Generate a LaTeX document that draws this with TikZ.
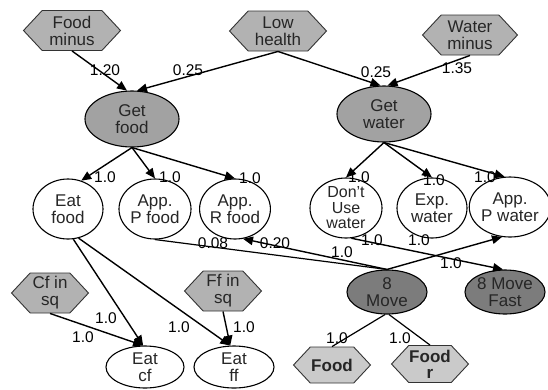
\documentclass[tikz,border=0pt]{standalone}
\usepackage{fontspec}
\setmainfont{Liberation Sans}
\usetikzlibrary{shapes.geometric,shapes.symbols,arrows.meta}
\definecolor{hexgray}{HTML}{B2B2B2}
\definecolor{goalgray}{HTML}{A2A2A2}
\definecolor{movegray}{HTML}{7C7C7C}
\definecolor{lightgray}{HTML}{CACACA}
\tikzset{
  txt/.style={font=\fontsize{17}{17}\selectfont, align=center, text=black!85},
  hexnode/.style={txt, shape=signal, signal to=west and east, signal pointer angle=94,
    draw=black!80, line width=0.9pt, fill=hexgray, inner sep=0pt},
  ellnode/.style={txt, ellipse, draw=black, line width=1.1pt, fill=white, inner sep=0pt},
  edge/.style={line width=1.4pt, draw=black, -{Triangle[length=10pt,width=8.5pt]}},
  plain/.style={line width=1.2pt, draw=black},
  lbl/.style={font=\fontsize{15.5}{15.5}\selectfont, text=black, inner sep=0pt}
}
\begin{document}
\begin{tikzpicture}[x=1pt,y=-1pt]
\useasboundingbox[fill=white] (0,0) rectangle (548,389);
% hexagon inputs
\node[hexnode, minimum width=97pt, minimum height=40pt] (fm) at (72,30.5) {Food\\minus};
\node[hexnode, minimum width=97pt, minimum height=40pt] (lh) at (278,31) {Low\\health};
\node[hexnode, minimum width=95pt, minimum height=40pt] (wm) at (470,35) {Water\\minus};
\node[hexnode, minimum width=77pt, minimum height=40pt] (cf) at (50,293) {Cf in\\sq};
\node[hexnode, minimum width=77pt, minimum height=40pt] (ff) at (223,291) {Ff in\\sq};
\node[hexnode, minimum width=77pt, minimum height=36pt, fill=lightgray, font=\fontsize{17}{17}\selectfont\bfseries] (food) at (332,365) {Food};
\node[hexnode, minimum width=77pt, minimum height=37pt, fill=lightgray, font=\fontsize{17}{16}\selectfont\bfseries] (foodr) at (430,364) {Food\\r};
% goals
\node[ellnode, fill=goalgray, minimum width=94pt, minimum height=56pt] (gf) at (132,119) {Get\\food};
\node[ellnode, fill=goalgray, minimum width=94pt, minimum height=56pt] (gw) at (384,114) {Get\\water};
% actions
\node[ellnode, minimum width=70pt, minimum height=60pt] (ef) at (68,209) {Eat\\food};
\node[ellnode, minimum width=72pt, minimum height=60pt] (apf) at (155,209) {App.\\P food};
\node[ellnode, minimum width=70pt, minimum height=60pt] (arf) at (235,209) {App.\\R food};
\node[ellnode, minimum width=72pt, minimum height=60pt, font=\fontsize{16}{15.5}\selectfont] (duw) at (346,208) {Don't\\Use\\water};
\node[ellnode, minimum width=70pt, minimum height=60pt] (ew) at (432,208) {Exp.\\water};
\node[ellnode, minimum width=73pt, minimum height=60pt] (apw) at (510,207) {App.\\P water};
\node[ellnode, fill=movegray, minimum width=80pt, minimum height=44pt] (mv) at (387,292) {8\\Move};
\node[ellnode, fill=movegray, minimum width=80pt, minimum height=44pt] (mvf) at (505,292) {8 Move\\Fast};
\node[ellnode, minimum width=78pt, minimum height=42pt] (ecf) at (145,367) {Eat\\cf};
\node[ellnode, minimum width=80pt, minimum height=42pt] (eff) at (234,367) {Eat\\ff};
% connectors
\draw[edge] (fm.south) -- (gf.100);
\draw[edge] (lh.south) -- (gf.80);
\draw[edge] (lh.south) -- (gw.97);
\draw[edge] (wm.south) -- (gw.83);
\draw[edge] (gf.south) -- (ef.65);
\draw[edge] (gf.south) -- (apf.north);
\draw[edge] (gf.south) -- (arf.north);
\draw[edge] (gw.south) -- (duw.north);
\draw[edge] (gw.south) -- (ew.north);
\draw[edge] (gw.south) -- (apw.100);
\draw[edge] (ef.-80) -- (ecf.95);
\draw[edge] (ef.-70) -- (eff.100);
\draw[edge] (cf.south) -- (ecf.95);
\draw[edge] (ff.south) -- (eff.100);
\draw[plain] (apf.south) -- (mv.north);
\draw[edge] (mv.north) -- (arf.-75);
\draw[edge] (mv.north) -- (apw.-105);
\draw[edge] (duw.-80) -- (mvf.95);
\draw[plain] (mv.-95) -- (food.north);
\draw[plain] (mv.-85) -- (foodr.north);
% labels
\node[lbl] at (105,70) {1.20};
\node[lbl] at (188,70) {0.25};
\node[lbl] at (376,72) {0.25};
\node[lbl] at (457,68) {1.35};
\node[lbl] at (105,177) {1.0};
\node[lbl] at (170,177) {1.0};
\node[lbl] at (250,178) {1.0};
\node[lbl] at (359,177) {1.0};
\node[lbl] at (434,180) {1.0};
\node[lbl] at (485,177) {1.0};
\node[lbl] at (213,243) {0.08};
\node[lbl] at (275,243) {0.20};
\node[lbl] at (342,252) {1.0};
\node[lbl] at (372,240) {1.0};
\node[lbl] at (419,240) {1.0};
\node[lbl] at (451,263) {1.0};
\node[lbl] at (106,318) {1.0};
\node[lbl] at (83,337) {1.0};
\node[lbl] at (179,327) {1.0};
\node[lbl] at (244,327) {1.0};
\node[lbl] at (337,338) {1.0};
\node[lbl] at (400,338) {1.0};
\end{tikzpicture}
\end{document}
